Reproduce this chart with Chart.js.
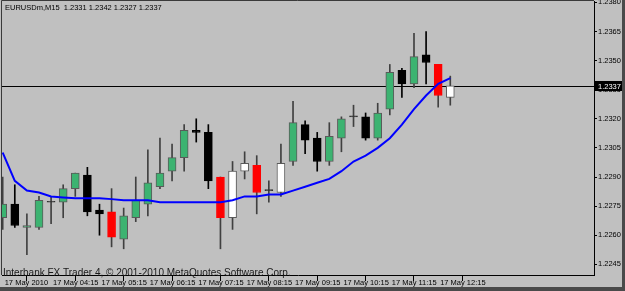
<!DOCTYPE html>
<html>
<head>
<meta charset="utf-8">
<script src="https://cdn.jsdelivr.net/npm/chart.js@4.4.1/dist/chart.umd.min.js"></script>
<style>
  html, body { margin: 0; padding: 0; background: #c0c0c0; }
  #wrap { width: 625px; height: 291px; box-sizing: border-box; border-right: 3px solid #4a4a4a; border-bottom: 4px solid #4a4a4a; background: #c0c0c0; }
  canvas { display: block; }
</style>
</head>
<body>
<div id="wrap"><canvas id="chart" width="622" height="287"></canvas></div>
<script>
const header = 'EURUSDm,M15  1.2331 1.2342 1.2327 1.2337';
const footer = 'Interbank FX Trader 4, \u00a9 2001-2010 MetaQuotes Software Corp.';

const opens  = [1.2269, 1.2276, 1.2264, 1.2264, 1.2277, 1.2277, 1.2284, 1.2291, 1.2273, 1.2272,
                1.2258, 1.2269, 1.2276, 1.2285, 1.2293, 1.2300, 1.2314, 1.2313, 1.2290, 1.2269,
                1.2293, 1.2296, 1.2283, 1.2282, 1.2298, 1.2317, 1.2310, 1.2298, 1.2310, 1.2321,
                1.2321, 1.2310, 1.2325, 1.2345, 1.2338, 1.2353, 1.2348, 1.2331];
const highs  = [1.2290, 1.2286, 1.2271, 1.2280, 1.2280, 1.2286, 1.2292, 1.2295, 1.2276, 1.2284,
                1.2274, 1.2290, 1.2304, 1.2310, 1.2307, 1.2317, 1.2320, 1.2317, 1.2290, 1.2298,
                1.2303, 1.2301, 1.2288, 1.2307, 1.2329, 1.2319, 1.2313, 1.2318, 1.2321, 1.2327,
                1.2323, 1.2328, 1.2348, 1.2346, 1.2364, 1.2365, 1.2348, 1.2342];
const lows   = [1.2263, 1.2264, 1.2250, 1.2263, 1.2266, 1.2269, 1.2280, 1.2270, 1.2260, 1.2254,
                1.2253, 1.2267, 1.2270, 1.2284, 1.2288, 1.2293, 1.2308, 1.2284, 1.2253, 1.2263,
                1.2289, 1.2271, 1.2277, 1.2280, 1.2296, 1.2302, 1.2293, 1.2296, 1.2303, 1.2316,
                1.2309, 1.2309, 1.2322, 1.2331, 1.2336, 1.2338, 1.2326, 1.2327];
const closes = [1.2276, 1.2265, 1.2265, 1.2278, 1.2277, 1.2284, 1.2292, 1.2272, 1.2271, 1.2259,
                1.2270, 1.2278, 1.2287, 1.2292, 1.2300, 1.2314, 1.2313, 1.2288, 1.2269, 1.2293,
                1.2297, 1.2282, 1.2283, 1.2297, 1.2318, 1.2309, 1.2298, 1.2311, 1.2320, 1.2321,
                1.2310, 1.2323, 1.2344, 1.2338, 1.2352, 1.2349, 1.2332, 1.2337];
const ma     = [1.23026, 1.2288, 1.2283, 1.2282, 1.2280, 1.22795, 1.2279, 1.2279, 1.2279, 1.22786,
                1.2278, 1.2278, 1.2278, 1.2277, 1.2277, 1.2277, 1.2277, 1.2277, 1.2277, 1.2278,
                1.2280, 1.2280, 1.2281, 1.2281, 1.2283, 1.2285, 1.2287, 1.2289, 1.2293, 1.2298,
                1.2301, 1.2305, 1.2310, 1.2317, 1.2325, 1.2332, 1.2338, 1.2341];

const redBars = [9, 18, 21, 36];
const whiteBars = [19, 20, 23, 37];

const tickBars = [0, 4, 8, 12, 16, 20, 24, 28, 32, 36];
const tickLabels = ['17 May 2010', '17 May 04:15', '17 May 05:15', '17 May 06:15', '17 May 07:15',
                    '17 May 08:15', '17 May 09:15', '17 May 10:15', '17 May 11:15', '17 May 12:15'];
const priceTicks = [1.2245, 1.2260, 1.2275, 1.2290, 1.2305, 1.2320, 1.2335, 1.2350, 1.2365, 1.2380];

function bodyColor(i) {
  if (redBars.includes(i)) return '#ff0000';
  if (whiteBars.includes(i)) return '#ffffff';
  if (closes[i] > opens[i]) return '#3cb371';
  if (closes[i] < opens[i]) return '#000000';
  return '#303030';
}
function edgeColor(i) {
  const c = bodyColor(i);
  if (c === '#3cb371' || c === '#ffffff') return '#5a5a5a';
  return c;
}
function wickColor(i) {
  return bodyColor(i) === '#000000' ? '#000000' : '#404040';
}

const smallFont = { family: 'Liberation Sans', size: 7.5 };

const overlay = {
  id: 'overlay',
  beforeDatasetsDraw(chart) {
    const { ctx, chartArea: a, scales: { y } } = chart;
    const py = Math.round(y.getPixelForValue(closes[closes.length - 1])) + 0.5;
    ctx.save();
    ctx.strokeStyle = '#000';
    ctx.lineWidth = 1;
    ctx.beginPath();
    ctx.moveTo(a.left, py);
    ctx.lineTo(a.right, py);
    ctx.stroke();
    ctx.restore();
  },
  afterDraw(chart) {
    const { ctx, chartArea: a, scales: { y } } = chart;
    ctx.save();
    // frame on left and top
    ctx.strokeStyle = '#3a3a3a';
    ctx.lineWidth = 1;
    ctx.beginPath();
    ctx.moveTo(a.left - 0.5, a.bottom);
    ctx.lineTo(a.left - 0.5, a.top - 0.5);
    ctx.lineTo(a.right, a.top - 0.5);
    ctx.stroke();

    // texts
    ctx.fillStyle = '#000';
    ctx.font = '7.5px "Liberation Sans"';
    ctx.textBaseline = 'alphabetic';
    ctx.textAlign = 'left';
    ctx.fillText(header, a.left + 3, 10);
    ctx.fillStyle = '#1a1a1a';
    ctx.font = '10px "Liberation Sans"';
    ctx.fillText(footer, a.left + 1, a.bottom + 1);

    // current price tag
    const last = closes[closes.length - 1];
    const py = Math.round(y.getPixelForValue(last));
    ctx.fillStyle = '#000';
    ctx.fillRect(a.right + 1, py - 5, chart.width - a.right - 1, 10);
    ctx.fillStyle = '#fff';
    ctx.font = '7.5px "Liberation Sans"';
    ctx.textBaseline = 'middle';
    ctx.fillText(last.toFixed(4), a.right + 4, py + 0.5);
    ctx.restore();
  }
};

const ctx = document.getElementById('chart').getContext('2d');

new Chart(ctx, {
  type: 'bar',
  data: {
    datasets: [
      {
        type: 'line',
        label: 'MA',
        data: ma.map((v, i) => ({ x: i, y: v })),
        borderColor: '#0000ff',
        borderWidth: 2,
        pointRadius: 0,
        tension: 0,
        order: 0
      },
      {
        label: 'Body',
        data: opens.map((o, i) => ({ x: i, y: [o, closes[i]] })),
        backgroundColor: opens.map((o, i) => bodyColor(i)),
        borderColor: opens.map((o, i) => edgeColor(i)),
        borderWidth: 1,
        borderSkipped: false,
        barThickness: 8,
        minBarLength: 1,
        grouped: false,
        order: 1
      },
      {
        label: 'Wick',
        data: lows.map((l, i) => ({ x: i, y: [l, highs[i]] })),
        backgroundColor: lows.map((l, i) => wickColor(i)),
        barThickness: 1,
        grouped: false,
        order: 2
      }
    ]
  },
  options: {
    responsive: false,
    devicePixelRatio: 1,
    animation: false,
    layout: { padding: { left: 2, top: 1, right: 0, bottom: 0 } },
    plugins: {
      legend: { display: false },
      tooltip: { enabled: false }
    },
    scales: {
      x: {
        type: 'linear',
        min: -0.058,
        max: 48.88,
        offset: false,
        grid: { drawOnChartArea: false, tickLength: 6, tickColor: '#000' },
        border: { display: true, color: '#000' },
        afterBuildTicks: s => { s.ticks = tickBars.map(v => ({ value: v })); },
        afterFit: s => { s.height = 12; s.paddingLeft = 0; s.paddingRight = 0; },
        ticks: {
          autoSkip: false,
          maxRotation: 0,
          align: 'start',
          labelOffset: 2,
          padding: -3,
          color: '#000',
          font: smallFont,
          callback: v => tickLabels[tickBars.indexOf(v)]
        }
      },
      y: {
        position: 'right',
        min: 1.22395,
        max: 1.23807,
        grid: { drawOnChartArea: false, tickLength: 3, tickColor: '#000' },
        border: { display: true, color: '#000' },
        afterBuildTicks: s => { s.ticks = priceTicks.map(v => ({ value: v })); },
        afterFit: s => { s.width = 28; s.paddingTop = 0; s.paddingBottom = 0; },
        ticks: {
          padding: 1,
          color: '#000',
          font: smallFont,
          callback: v => v.toFixed(4)
        }
      }
    }
  },
  plugins: [overlay]
});
</script>
</body>
</html>
